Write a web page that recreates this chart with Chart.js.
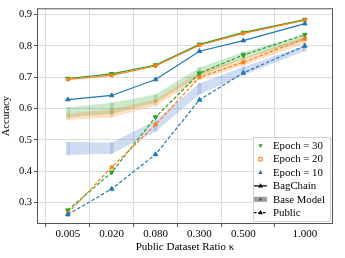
<!DOCTYPE html>
<html>
<head>
<meta charset="utf-8">
<script src="https://cdn.jsdelivr.net/npm/chart.js@4.4.0/dist/chart.umd.min.js"></script>
<style>
  html, body { margin: 0; padding: 0; background: #fff; }
  #chart { display: block; }
</style>
</head>
<body>
<canvas id="chart" width="345" height="258"></canvas>
<script>
// Tỉ lệ dữ liệu công khai (trục x)
const ratios = [0.005, 0.020, 0.080, 0.300, 0.500, 1.000];
const tickLabels = ['0.005', '0.020', '0.080', '0.300', '0.500', '1.000'];
const yTicks = [0.3, 0.4, 0.5, 0.6, 0.7, 0.8, 0.9];

// BagChain (đường liền)
const bag30 = [0.696, 0.711, 0.739, 0.805, 0.843, 0.884];
const bag20 = [0.693, 0.706, 0.736, 0.802, 0.840, 0.882];
const bag10 = [0.629, 0.642, 0.693, 0.783, 0.817, 0.871];

// Public (đường nét đứt)
const pub30 = [0.276, 0.397, 0.573, 0.713, 0.771, 0.836];
const pub20 = [0.266, 0.413, 0.549, 0.700, 0.748, 0.823];
const pub10 = [0.262, 0.344, 0.454, 0.628, 0.714, 0.800];

// Base Model (dải min/max)
const base30Low  = [0.572, 0.583, 0.619, 0.704, 0.758, 0.817];
const base30High = [0.604, 0.619, 0.645, 0.731, 0.781, 0.836];
const base20Low  = [0.564, 0.572, 0.609, 0.693, 0.738, 0.807];
const base20High = [0.584, 0.598, 0.629, 0.717, 0.761, 0.830];
const base10Low  = [0.452, 0.456, 0.527, 0.645, 0.707, 0.784];
const base10High = [0.493, 0.492, 0.562, 0.681, 0.733, 0.802];

const BLUE = '#1f77b4', ORANGE = '#ff7f0e', GREEN = '#2ca02c';
const FONT = '"Liberation Serif", "DejaVu Serif", serif';

// vị trí trên trục: khoảng cuối giãn rộng hơn như hình gốc
const axisPos = i => (i < 5 ? i : 5.4);
const pts = arr => arr.map((v, i) => ({ x: axisPos(i), y: v }));
const ranges = (lo, hi) => lo.map((v, i) => ({ x: axisPos(i), y: [v, hi[i]] }));

function rgba(hex, a) {
  const n = parseInt(hex.slice(1), 16);
  return `rgba(${n >> 16},${(n >> 8) & 255},${n & 255},${a})`;
}

function lineSet(data, color, shape, dashed, rot) {
  return {
    data: pts(data),
    borderColor: color,
    backgroundColor: color,
    borderWidth: 1.2,
    borderDash: dashed ? [3.5, 2] : [],
    pointStyle: shape,
    rotation: rot || 0,
    pointRadius: shape === 'rect' ? 2 : 2.6,
    pointBorderWidth: 1,
    tension: 0,
    order: 1
  };
}

function bandSets(lo, hi, fillColor) {
  return [
    { data: pts(lo), borderWidth: 0, pointRadius: 0, fill: false, order: 20, backgroundColor: 'transparent', borderColor: 'transparent' },
    { data: pts(hi), borderWidth: 0, pointRadius: 0, fill: '-1', order: 20, backgroundColor: fillColor, borderColor: 'transparent' },
    { type: 'bar', data: ranges(lo, hi), backgroundColor: fillColor, barThickness: 3, grouped: false, order: 19 }
  ];
}

const datasets = [
  ...bandSets(base10Low, base10High, 'rgba(100,140,210,0.3)'),
  ...bandSets(base20Low, base20High, rgba(ORANGE, 0.24)),
  ...bandSets(base30Low, base30High, rgba(GREEN, 0.24)),
  lineSet(pub10, BLUE, 'triangle', true),
  lineSet(pub20, ORANGE, 'rect', true),
  lineSet(pub30, GREEN, 'triangle', true, 180),
  lineSet(bag10, BLUE, 'triangle', false),
  lineSet(bag20, ORANGE, 'rect', false),
  lineSet(bag30, GREEN, 'triangle', false, 180)
];

// chú giải tự vẽ (giống matplotlib)
const legendPlugin = {
  id: 'customLegend',
  afterDraw(chart) {
    const ctx = chart.ctx;
    const x0 = 253, y0 = 137, w = 77, h = 84;
    ctx.save();
    ctx.fillStyle = 'rgba(255,255,255,0.85)';
    ctx.strokeStyle = '#d0d0d0';
    ctx.lineWidth = 1;
    ctx.beginPath();
    ctx.rect(x0 + 0.5, y0 + 0.5, w, h);
    ctx.fill();
    ctx.stroke();

    const tri = (cx, cy, r, down, color) => {
      ctx.fillStyle = color;
      ctx.beginPath();
      const s = down ? -1 : 1;
      ctx.moveTo(cx, cy - s * r);
      ctx.lineTo(cx - r * 0.95, cy + s * r * 0.6);
      ctx.lineTo(cx + r * 0.95, cy + s * r * 0.6);
      ctx.closePath();
      ctx.fill();
    };

    const items = ['Epoch = 30', 'Epoch = 20', 'Epoch = 10', 'BagChain', 'Base Model', 'Public'];
    const mx = 260.5, tx = 273;
    ctx.font = '10.8px ' + FONT;
    ctx.textBaseline = 'middle';
    items.forEach((label, i) => {
      const cy = 145.7 + i * 13.4;
      if (i === 0) tri(mx, cy, 2.4, true, GREEN);
      if (i === 1) {
        ctx.strokeStyle = ORANGE; ctx.lineWidth = 1;
        ctx.strokeRect(mx - 1.7, cy - 1.7, 3.4, 3.4);
      }
      if (i === 2) tri(mx, cy, 2.4, false, BLUE);
      if (i === 3) {
        ctx.strokeStyle = '#000'; ctx.lineWidth = 1.2; ctx.setLineDash([]);
        ctx.beginPath(); ctx.moveTo(254, cy); ctx.lineTo(267, cy); ctx.stroke();
        tri(mx, cy, 2.6, false, '#000');
      }
      if (i === 4) {
        ctx.fillStyle = 'rgba(90,90,90,0.6)';
        ctx.fillRect(254, cy - 2.5, 13, 5);
        tri(mx, cy, 2, false, 'rgba(60,60,60,0.8)');
      }
      if (i === 5) {
        ctx.strokeStyle = '#000'; ctx.lineWidth = 1.2; ctx.setLineDash([2.5, 2]);
        ctx.beginPath(); ctx.moveTo(254, cy); ctx.lineTo(267, cy); ctx.stroke();
        ctx.setLineDash([]);
        tri(mx, cy, 2.6, false, '#000');
      }
      ctx.fillStyle = '#000';
      ctx.fillText(label, tx, cy + 0.5);
    });
    ctx.restore();
  }
};

// viền khung đồ thị
const framePlugin = {
  id: 'frame',
  afterDatasetsDraw(chart) {
    const a = chart.chartArea, ctx = chart.ctx;
    ctx.save();
    ctx.strokeStyle = '#555';
    ctx.lineWidth = 1;
    ctx.strokeRect(a.left + 0.5, a.top + 0.5, a.right - a.left - 1, a.bottom - a.top - 1);
    ctx.restore();
  }
};

new Chart(document.getElementById('chart'), {
  type: 'line',
  data: { datasets },
  plugins: [framePlugin, legendPlugin],
  options: {
    responsive: false,
    animation: false,
    layout: { padding: { left: 0, right: 12, top: 4, bottom: 4 } },
    plugins: { legend: { display: false }, tooltip: { enabled: false } },
    scales: {
      x: {
        type: 'linear',
        min: -0.14,
        max: 5.48,
        afterBuildTicks: s => { s.ticks = ratios.map((r, i) => ({ value: axisPos(i) })); },
        afterFit: s => { s.height = 30; },
        grid: { color: '#dcdcdc', lineWidth: 1, drawTicks: true, tickLength: 3, tickColor: '#555' },
        border: { display: false },
        ticks: {
          color: '#000',
          font: { family: FONT, size: 11 },
          padding: 1,
          maxRotation: 0,
          autoSkip: false,
          callback: (v) => {
            const i = ratios.findIndex((r, k) => Math.abs(axisPos(k) - v) < 1e-6);
            return i >= 0 ? tickLabels[i] : '';
          }
        },
        title: {
          display: true,
          text: 'Public Dataset Ratio κ',
          color: '#000',
          font: { family: FONT, size: 11 },
          padding: { top: 0, bottom: 0 }
        }
      },
      y: {
        min: 0.232,
        max: 0.92,
        afterBuildTicks: s => { s.ticks = yTicks.map(v => ({ value: v })); },
        afterFit: s => { s.width = 37; },
        grid: { color: '#dcdcdc', lineWidth: 1, tickLength: 3, tickColor: '#555' },
        border: { display: false },
        ticks: {
          color: '#000',
          font: { family: FONT, size: 10.5 },
          padding: 2,
          callback: v => v.toFixed(1)
        },
        title: {
          display: true,
          text: 'Accuracy',
          color: '#000',
          font: { family: FONT, size: 10.5 },
          padding: { top: 0, bottom: 0 }
        }
      }
    }
  }
});
</script>
</body>
</html>
